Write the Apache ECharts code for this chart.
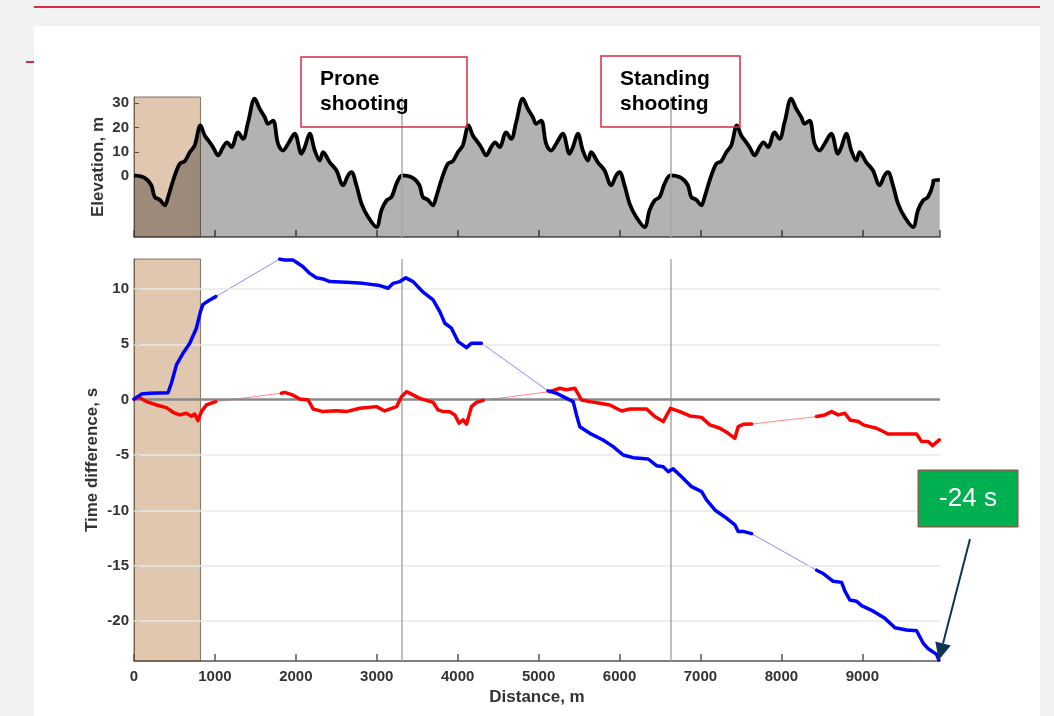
<!DOCTYPE html>
<html><head><meta charset="utf-8">
<script src="https://cdn.jsdelivr.net/npm/echarts@6/dist/echarts.min.js"></script>
<style>
html,body{margin:0;padding:0;background:#f2f2f2;width:1054px;height:716px;overflow:hidden;font-family:"Liberation Sans",Arial,sans-serif;}
#topline{position:absolute;left:34px;top:6px;width:1006px;height:2px;background:#d62b45;}
#panel{position:absolute;left:34px;top:26px;width:1006px;height:690px;background:#fff;}
#dash{position:absolute;left:26px;top:61px;width:8px;height:2px;background:#d62b45;}
#chart{position:absolute;left:0;top:0;width:1054px;height:716px;}
</style></head>
<body>
<div id="topline"></div><div id="panel"></div><div id="dash"></div>
<div id="chart"></div>
<script>
// ---- data ----
const xMax = 9960;
const xTickInterval = 1000;
const shootingDistances = [3313, 6630];       // vertical lines
const startZoneEnd = 821;                      // shaded zone 0..821 m
const elevTicks = [0, 10, 20, 30];
const timeTicks = [-20, -15, -10, -5, 0, 5, 10];

// one lap of the course profile (distance from lap start, m ; elevation, m)
const lapDistance = [0,132,215,256,318,380,421,483,565,627,689,750,821,874,936,977,1039,1100,1150,1204,1286,1347,1409,1492,1554,1616,1656,1718,1780,1842,1904,1986,2069,2110,2172,2234,2296,2336,2419,2502,2583,2645,2687,2749,2811,2893,2996,3058,3120,3182,3244];
const lapElevation = [0.3,-0.7,-3.8,-8.6,-9.7,-12,-8.6,-1.8,5.1,6.1,9.8,12.6,20.8,16.7,13.9,11.9,8.5,11.9,13.9,11.9,18,15.3,22.1,31.8,27.6,24.2,21.5,22.8,13.3,10.5,13.3,17.4,9.2,11.9,17.4,10.5,6.4,9.8,5.7,2.3,-3.8,0.3,1.6,-3.8,-11.3,-16.8,-20.9,-14,-10,-8.6,-3.1];
const lapStarts = [0, 3313, 6630];
const tailDistance = [9877, 9957];
const tailElevation = [-1.8, -1.5];

// blue athlete (null = break between recorded segments)
const blueDistance = [0,91,194,421,462,524,606,689,771,821,853,936,1010,null,
  1801,1863,1966,2007,2089,2172,2254,2336,2419,2625,2831,3037,3140,3202,3285,3359,3449,3573,3696,3779,3841,3923,4005,4109,4170,4294,null,
  5117,5221,5303,5427,5468,5509,5633,5797,5921,6045,6168,6354,6457,6540,6601,6663,6766,6890,7014,7075,7178,7322,7425,7466,7528,7632,null,
  8435,8517,8641,8744,8785,8847,8929,8991,9135,9279,9403,9547,9671,9753,9815,9918,9945];
const blueTime = [0.05,0.5,0.58,0.63,1.48,3.13,4.19,5.09,6.45,7.95,8.6,9.0,9.3,null,
  12.7,12.6,12.6,12.4,12.0,11.4,11.0,10.9,10.66,10.6,10.5,10.3,10.06,10.5,10.66,11.0,10.66,9.7,9.0,7.95,6.9,6.45,5.24,4.7,5.1,5.1,null,
  0.79,0.58,0.27,-0.18,-1.38,-2.44,-3.04,-3.64,-4.24,-5.0,-5.24,-5.36,-5.96,-6.05,-6.5,-6.25,-6.96,-7.86,-8.3,-9.06,-9.96,-10.7,-11.3,-11.9,-11.9,-12.1,null,
  -15.4,-15.7,-16.4,-16.5,-17.3,-18.1,-18.2,-18.6,-19.1,-19.75,-20.6,-20.8,-20.87,-22.0,-22.5,-23.0,-23.5];

// red athlete
const redDistance = [0,70,153,277,400,483,565,647,709,750,791,833,894,1010,null,
  1822,1863,1966,2048,2151,2213,2336,2501,2625,2790,2996,3099,3244,3305,3367,3490,3532,3696,3758,3820,3902,3964,4017,4067,4109,4170,4232,4314,null,
  5138,5262,5344,5447,5530,5633,5757,5880,6025,6128,6334,6436,6540,6630,6745,6869,7014,7116,7240,7343,7425,7466,7528,7632,null,
  8435,8538,8620,8703,8785,8847,8950,9012,9176,9320,9506,9671,9733,9815,9869,9951];
const redTime = [0.05,0.2,-0.18,-0.48,-0.72,-1.14,-1.38,-1.23,-1.5,-1.3,-1.9,-1.08,-0.48,-0.18,null,
  0.58,0.66,0.4,0.06,-0.03,-0.84,-1.08,-1.0,-1.08,-0.78,-0.63,-1.02,-0.63,0.27,0.72,0.27,0.12,-0.24,-0.93,-1.08,-1.1,-1.38,-2.13,-1.83,-2.22,-0.63,-0.24,-0.06,null,
  0.72,1.03,0.9,1.03,-0.03,-0.18,-0.33,-0.48,-1.02,-0.84,-0.84,-1.53,-1.98,-0.78,-1.08,-1.47,-1.6,-2.28,-2.58,-3.04,-3.49,-2.44,-2.23,-2.2,null,
  -1.53,-1.38,-1.08,-1.38,-1.23,-1.83,-1.98,-2.28,-2.58,-3.1,-3.1,-3.1,-3.79,-3.79,-4.15,-3.64];

const finalLabel = '-24 s';

// ---- build series data ----
const elevationData = [];
lapStarts.forEach(s => lapDistance.forEach((d, i) => elevationData.push([s + d, lapElevation[i]])));
tailDistance.forEach((d, i) => elevationData.push([d, tailElevation[i]]));

function thick(dist, time) {
  const out = [];
  dist.forEach((d, i) => out.push(d === null ? [dist[i - 1], null] : [d, time[i]]));
  return out;
}
function connectors(dist, time) {
  const out = [];
  dist.forEach((d, i) => {
    if (d === null) {
      out.push([dist[i - 1], time[i - 1]], [dist[i + 1], time[i + 1]], [dist[i + 1], null]);
    }
  });
  return out;
}

const FONT = '"Liberation Sans", Arial, sans-serif';
const lbl = { fontFamily: FONT, fontWeight: 'bold', fontSize: 15, color: '#333', formatter: v => String(v) };
const ttl = { fontFamily: FONT, fontWeight: 'bold', fontSize: 17, color: '#333' };
const vLines = shootingDistances.map(x => ({ xAxis: x }));
const gridLines = timeTicks.filter(v => v !== 0).map(v => ({ yAxis: v }));
const tanArea = { silent: true, itemStyle: { color: 'rgba(166,98,29,0.35)', borderColor: 'rgba(95,75,55,0.75)', borderWidth: 1 },
  data: [[{ xAxis: 0 }, { xAxis: startZoneEnd }]] };

const chart = echarts.init(document.getElementById('chart'), null, { renderer: 'canvas' });
const option = {
  animation: false,
  backgroundColor: 'transparent',
  grid: [
    { left: 134, top: 97, width: 806, height: 140 },
    { left: 134, top: 259, width: 806, height: 402 }
  ],
  xAxis: [
    { type: 'value', gridIndex: 0, min: 0, max: xMax, interval: xTickInterval,
      axisLabel: { show: false }, splitLine: { show: false },
      axisLine: { onZero: false, lineStyle: { color: '#555', width: 1.5 } },
      axisTick: { inside: true, length: 7, lineStyle: { color: '#555', width: 1.5 } } },
    { type: 'value', gridIndex: 1, min: 0, max: xMax, interval: xTickInterval,
      axisLabel: Object.assign({ margin: 8, showMaxLabel: false }, lbl), splitLine: { show: false },
      axisLine: { onZero: false, lineStyle: { color: '#555', width: 1.5 } },
      axisTick: { inside: true, length: 7, lineStyle: { color: '#555', width: 1.5 } },
      name: 'Distance, m', nameLocation: 'middle', nameGap: 28, nameMoveOverlap: false, nameTextStyle: ttl }
  ],
  yAxis: [
    { type: 'value', gridIndex: 0, min: -25, max: 32.5,
      axisLabel: Object.assign({ margin: 5, customValues: elevTicks }, lbl),
      axisTick: { inside: true, length: 5, customValues: elevTicks, lineStyle: { color: '#444' } },
      axisLine: { show: true, onZero: false, lineStyle: { color: '#777', width: 1 } },
      splitLine: { show: false },
      name: 'Elevation, m', nameLocation: 'middle', nameGap: 27, nameMoveOverlap: false, nameRotate: 90, nameTextStyle: ttl },
    { type: 'value', gridIndex: 1, min: -23.6, max: 12.7,
      axisLabel: Object.assign({ margin: 5, customValues: timeTicks }, lbl),
      axisTick: { inside: true, length: 5, customValues: timeTicks, lineStyle: { color: '#444' } },
      axisLine: { show: true, onZero: false, lineStyle: { color: '#777', width: 1 } },
      splitLine: { show: false },
      name: 'Time difference, s', nameLocation: 'middle', nameGap: 33, nameMoveOverlap: false, nameRotate: 90, nameTextStyle: ttl }
  ],
  series: [
    { type: 'line', xAxisIndex: 0, yAxisIndex: 0, data: elevationData, smooth: 0.35, symbol: 'none', z: 2,
      lineStyle: { color: '#000', width: 3.8 }, areaStyle: { color: '#000', opacity: 0.3, origin: 'start' }, silent: true },
    { type: 'line', xAxisIndex: 0, yAxisIndex: 0, data: [], z: 5, silent: true,
      markLine: { silent: true, symbol: 'none', label: { show: false }, lineStyle: { color: '#a8a8a8', width: 1.5, type: 'solid' }, data: vLines },
      markArea: tanArea },
    { type: 'line', xAxisIndex: 1, yAxisIndex: 1, data: [], z: 1, silent: true,
      markLine: { silent: true, symbol: 'none', label: { show: false }, lineStyle: { color: '#e8e8e8', width: 1.5, type: 'solid' }, data: gridLines } },
    { type: 'line', xAxisIndex: 1, yAxisIndex: 1, data: [], z: 2, silent: true,
      markLine: { silent: true, symbol: 'none', label: { show: false }, lineStyle: { color: '#aaaaaa', width: 1.5, type: 'solid' }, data: vLines } },
    { type: 'line', xAxisIndex: 1, yAxisIndex: 1, data: [], z: 3, silent: true,
      markLine: { silent: true, symbol: 'none', label: { show: false }, lineStyle: { color: '#888888', width: 2.5, type: 'solid' }, data: [{ yAxis: 0 }] } },
    { type: 'line', xAxisIndex: 1, yAxisIndex: 1, data: connectors(blueDistance, blueTime), symbol: 'none', z: 4,
      lineStyle: { color: 'rgba(60,60,255,0.6)', width: 1 } },
    { type: 'line', xAxisIndex: 1, yAxisIndex: 1, data: connectors(redDistance, redTime), symbol: 'none', z: 4,
      lineStyle: { color: 'rgba(255,60,60,0.6)', width: 1 } },
    { type: 'line', xAxisIndex: 1, yAxisIndex: 1, data: thick(redDistance, redTime), symbol: 'none', z: 5,
      lineStyle: { color: '#ff0000', width: 3.5, join: 'round', cap: 'round' } },
    { type: 'line', xAxisIndex: 1, yAxisIndex: 1, data: thick(blueDistance, blueTime), symbol: 'none', z: 6,
      lineStyle: { color: '#0000ff', width: 3.5, join: 'round', cap: 'round' } },
    { type: 'line', xAxisIndex: 1, yAxisIndex: 1, data: [], z: 8, silent: true, markArea: tanArea }
  ]
};
chart.setOption(option);

// annotations
const lastIdx = blueDistance.length - 1;
const tip = chart.convertToPixel({ xAxisIndex: 1, yAxisIndex: 1 }, [blueDistance[lastIdx], blueTime[lastIdx]]);
const start = [970, 539];
const dx = tip[0] - start[0], dy = tip[1] - start[1];
const len = Math.sqrt(dx * dx + dy * dy), ux = dx / len, uy = dy / len;
const headL = 17, headW = 8;
const base = [tip[0] - ux * headL, tip[1] - uy * headL];
const boxStroke = '#d62b45';
chart.setOption({
  graphic: [
    { type: 'rect', shape: { x: 301, y: 57, width: 166, height: 70 }, style: { fill: null, stroke: boxStroke, lineWidth: 1.5 }, z: 100 },
    { type: 'text', x: 320, y: 67, z: 101, style: { text: 'Prone\nshooting', font: 'bold 21px ' + FONT, fill: '#000', lineHeight: 25 } },
    { type: 'rect', shape: { x: 601, y: 56, width: 139, height: 71 }, style: { fill: null, stroke: boxStroke, lineWidth: 1.5 }, z: 100 },
    { type: 'text', x: 620, y: 67, z: 101, style: { text: 'Standing\nshooting', font: 'bold 21px ' + FONT, fill: '#000', lineHeight: 25 } },
    { type: 'rect', shape: { x: 918, y: 470, width: 100, height: 57 }, style: { fill: '#00b050', stroke: boxStroke, lineWidth: 1 }, z: 100 },
    { type: 'text', x: 968, y: 499, z: 101, style: { text: finalLabel, font: '26px ' + FONT, fill: '#fff', align: 'center', verticalAlign: 'middle' } },
    { type: 'line', shape: { x1: start[0], y1: start[1], x2: base[0], y2: base[1] }, style: { stroke: '#0e3553', lineWidth: 2 }, z: 100 },
    { type: 'polygon', shape: { points: [tip, [base[0] - uy * headW, base[1] + ux * headW], [base[0] + uy * headW, base[1] - ux * headW]] },
      style: { fill: '#0e3553' }, z: 100 }
  ]
});
</script>
</body></html>
